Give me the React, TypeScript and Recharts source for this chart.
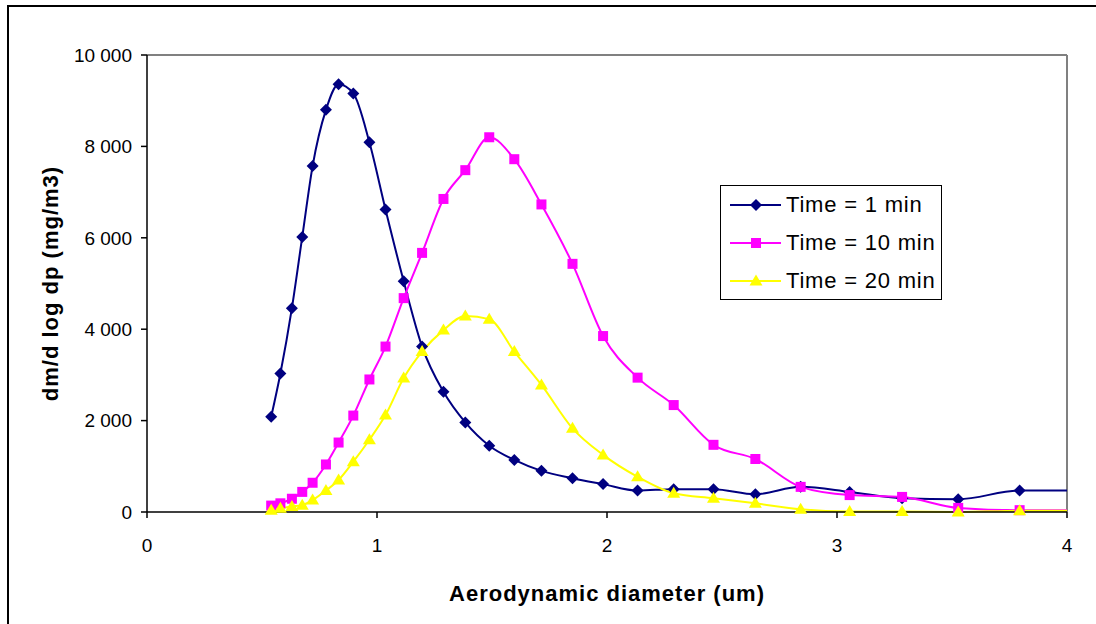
import { LineChart, Line, XAxis, YAxis, ReferenceLine, Label } from 'recharts';

// aerodynamic diameter (um) of each stage
const diameters = [
  0.54, 0.58, 0.63, 0.675, 0.72, 0.778, 0.833, 0.897, 0.967, 1.037, 1.116, 1.196, 1.289, 1.384,
  1.488, 1.597, 1.715, 1.85, 1.983, 2.133, 2.29, 2.463, 2.645, 2.842, 3.055, 3.283, 3.527, 3.794, 4.04,
];

// dm/d log dp (mg/m3)
const time1 = [
  2085, 3030, 4460, 6020, 7570, 8800, 9360, 9160, 8090, 6620, 5050, 3620, 2630, 1960,
  1450, 1140, 900, 740, 610, 470, 500, 500, 390, 550, 440, 300, 280, 470, 470,
];
const time10 = [
  140, 190, 290, 440, 640, 1040, 1520, 2110, 2900, 3620, 4680, 5670, 6850, 7480,
  8200, 7720, 6730, 5430, 3850, 2940, 2340, 1470, 1160, 550, 370, 330, 90, 40, 40,
];
const time20 = [
  40, 80, 120, 150, 260, 470, 700, 1100, 1580, 2120, 2930, 3510, 3980, 4290,
  4220, 3510, 2780, 1830, 1250, 770, 410, 300, 190, 60, 10, 10, 0, 30, 30,
];

const xTicks = [0, 1, 2, 3, 4];
const yTicks = [0, 2000, 4000, 6000, 8000, 10000];

const data = diameters.map((d, i) => ({ d, t1: time1[i], t10: time10[i], t20: time20[i] }));
const lastIndex = diameters.length - 1;

const FONT = '"Liberation Sans", Arial, sans-serif';

const series = [
  { key: 't1', label: 'Time = 1 min', color: '#000080', shape: 'diamond' },
  { key: 't10', label: 'Time = 10 min', color: '#FF00FF', shape: 'square' },
  { key: 't20', label: 'Time = 20 min', color: '#FFFF00', shape: 'triangle' },
];

function Marker({ shape, cx, cy, color }: { shape: string; cx: number; cy: number; color: string }) {
  if (shape === 'diamond') {
    return <polygon points={`${cx},${cy - 6} ${cx + 6},${cy} ${cx},${cy + 6} ${cx - 6},${cy}`} fill={color} />;
  }
  if (shape === 'square') {
    return <rect x={cx - 5} y={cy - 5} width={10} height={10} fill={color} />;
  }
  return <polygon points={`${cx},${cy - 6.5} ${cx + 6.5},${cy + 4.5} ${cx - 6.5},${cy + 4.5}`} fill={color} />;
}

const makeDot = (shape: string, color: string) => (props: any) => {
  const { cx, cy, index } = props;
  if (index === lastIndex || cx == null || cy == null) return <g key={`d-${shape}-${index}`} />;
  return (
    <g key={`d-${shape}-${index}`}>
      <Marker shape={shape} cx={cx} cy={cy} color={color} />
    </g>
  );
};

const fmt = (v: number) => String(v).replace(/\B(?=(\d{3})+(?!\d))/g, ' ');

function LegendBox() {
  return (
    <div
      style={{
        position: 'absolute',
        left: 720,
        top: 185,
        width: 222,
        height: 115,
        border: '1.5px solid #000',
        boxSizing: 'border-box',
        background: '#fff',
      }}
    >
      {series.map((s, i) => (
        <div key={s.key} style={{ position: 'absolute', left: 8, top: 0 + i * 38, height: 38, display: 'flex', alignItems: 'center' }}>
          <svg width={54} height={20}>
            <line x1={1} y1={10} x2={52} y2={10} stroke={s.color} strokeWidth={2} />
            <Marker shape={s.shape} cx={27} cy={10} color={s.color} />
          </svg>
          <span style={{ fontFamily: FONT, fontSize: 22, letterSpacing: 0.8, color: '#000', marginLeft: 3 }}>{s.label}</span>
        </div>
      ))}
    </div>
  );
}

export default function App() {
  return (
    <div style={{ position: 'absolute', left: 0, top: 0, width: 1096, height: 624, overflow: 'hidden', background: '#fff' }}>
      <div
        style={{ position: 'absolute', left: 7, top: 5, width: 1200, height: 800, border: '2px solid #000', boxSizing: 'border-box' }}
      />
      <LineChart
        width={1096}
        height={624}
        data={data}
        margin={{ top: 55, right: 29, bottom: 22, left: 47 }}
        style={{ position: 'absolute', left: 0, top: 0 }}
      >
        <XAxis
          dataKey="d"
          type="number"
          domain={[0, 4]}
          ticks={xTicks}
          allowDataOverflow
          height={90}
          stroke="#000"
          strokeWidth={1.5}
          tickSize={6}
          tickMargin={21}
          tick={{ fill: '#000', fontSize: 19, fontFamily: FONT }}
        >
          <Label
            content={({ viewBox }: any) => (
              <text
                x={viewBox.x + viewBox.width / 2}
                y={601}
                textAnchor="middle"
                fontFamily={FONT}
                fontSize={22}
                fontWeight="bold"
                letterSpacing={1}
                fill="#000"
              >
                Aerodynamic diameter (um)
              </text>
            )}
          />
        </XAxis>
        <YAxis
          type="number"
          domain={[0, 10000]}
          ticks={yTicks}
          width={100}
          stroke="#000"
          strokeWidth={1.5}
          tickSize={6}
          tickMargin={9}
          tickFormatter={fmt}
          tick={{ fill: '#000', fontSize: 19, fontFamily: FONT }}
        >
          <Label
            content={({ viewBox }: any) => {
              const cx = 58;
              const cy = viewBox.y + viewBox.height / 2;
              return (
                <text
                  x={cx}
                  y={cy}
                  transform={`rotate(-90 ${cx} ${cy})`}
                  textAnchor="middle"
                  fontFamily={FONT}
                  fontSize={22}
                  fontWeight="bold"
                  letterSpacing={1}
                  fill="#000"
                >
                  dm/d log dp (mg/m3)
                </text>
              );
            }}
          />
        </YAxis>
        <ReferenceLine y={10000} stroke="#808080" strokeWidth={2} />
        <ReferenceLine x={4} stroke="#808080" strokeWidth={2} />
        {series.map((s) => (
          <Line
            key={s.key}
            type="monotone"
            dataKey={s.key}
            name={s.label}
            stroke={s.color}
            strokeWidth={2}
            dot={makeDot(s.shape, s.color)}
            activeDot={false}
            isAnimationActive={false}
          />
        ))}
      </LineChart>
      <LegendBox />
    </div>
  );
}
